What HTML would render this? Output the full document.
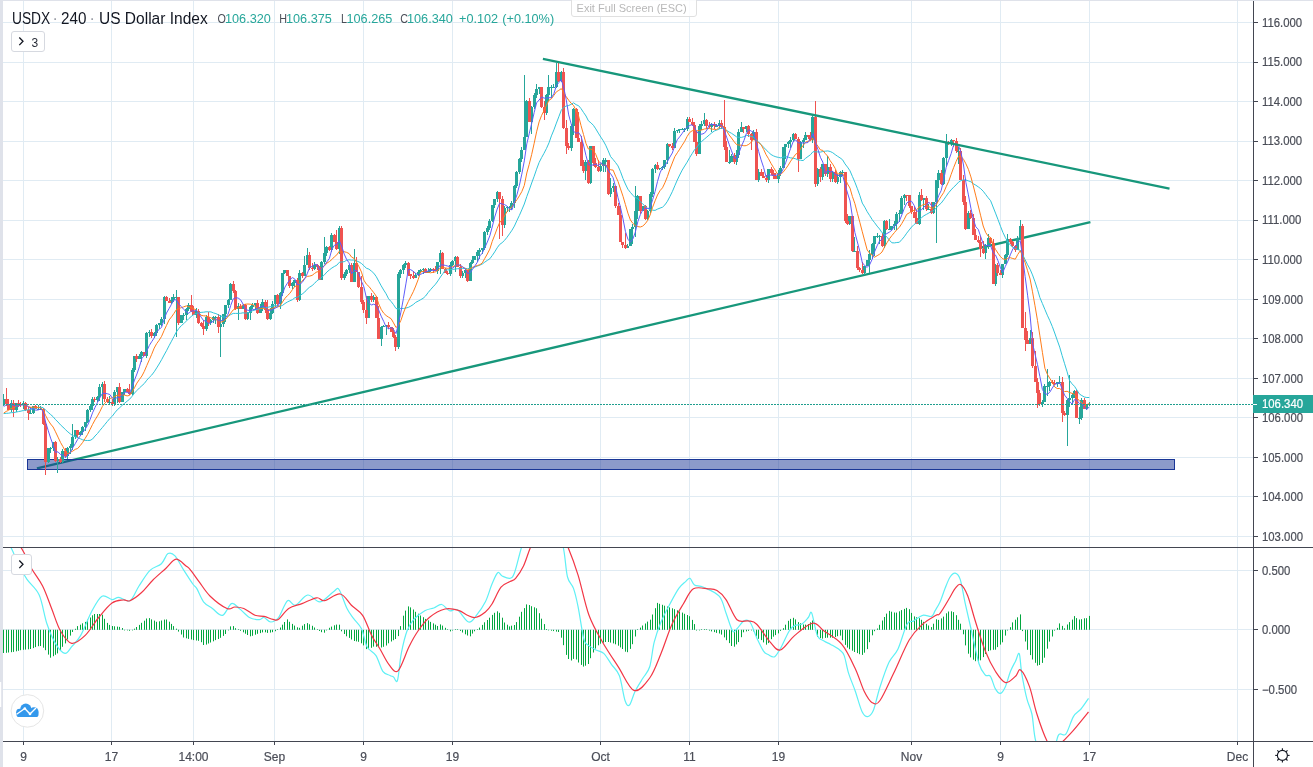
<!DOCTYPE html><html><head><meta charset="utf-8"><style>
html,body{margin:0;padding:0;background:#fff;width:1313px;height:767px;overflow:hidden;position:relative;font-family:"Liberation Sans",sans-serif;}
#tx{position:absolute;left:0;top:0;width:1313px;height:767px;will-change:transform}
#tx div{position:absolute;white-space:nowrap;line-height:14px}
.t{color:#4a4d57;font-size:12px;width:80px;text-align:center;-webkit-text-stroke:0.2px #4a4d57}
.pl{left:1262px;color:#4a4d57;font-size:12px;transform:scaleX(0.945);transform-origin:0 0;-webkit-text-stroke:0.2px currentColor}
.g{color:#26a69a;font-size:12.7px}.k{color:#4a4d57;font-size:12.7px}
</style></head><body>
<svg width="1313" height="767" style="position:absolute;left:0;top:0">
<defs><clipPath id="cm"><rect x="3" y="1" width="1250" height="546"/></clipPath><clipPath id="cd"><rect x="3" y="548" width="1250" height="193"/></clipPath></defs>
<path d="M3 536.5H1253 M3 496.5H1253 M3 457.5H1253 M3 417.5H1253 M3 378.5H1253 M3 338.5H1253 M3 299.5H1253 M3 259.5H1253 M3 220.5H1253 M3 180.5H1253 M3 141.5H1253 M3 101.5H1253 M3 62.5H1253 M3 22.5H1253 M3 570.5H1253 M3 629.5H1253 M3 689.5H1253 M23.5 1V741 M111.5 1V741 M193.5 1V741 M274.5 1V741 M363.5 1V741 M452.5 1V741 M600.5 1V741 M689.5 1V741 M778.5 1V741 M911.5 1V741 M1000.5 1V741 M1089.5 1V741 M1237.5 1V741" stroke="#e0ebf3" stroke-width="1" fill="none"/>
<g clip-path="url(#cm)">
<line x1="36.9" y1="468.3" x2="1090.4" y2="222.1" stroke="#17977b" stroke-width="2.3" stroke-linecap="butt"/>
<rect x="27.5" y="459.5" width="1147" height="10" fill="rgba(26,54,150,0.5)" stroke="#1a3696" stroke-width="1"/>
<path d="M2 399h3v5h-3z M3 394h1v12h-1z M10 403h3v7h-3z M11 400h1v12h-1z M15 403h3v7h-3z M16 403h1v9h-1z M22 403h3v1h-3z M23 401h1v8h-1z M29 413h3v1h-3z M30 407h1v7h-1z M32 406h3v7h-3z M33 406h1v8h-1z M37 409h3v1h-3z M38 405h1v4h-1z M39 409h3v1h-3z M40 406h1v3h-1z M47 448h3v14h-3z M48 448h1v15h-1z M49 448h3v1h-3z M50 447h1v6h-1z M52 442h3v6h-3z M53 442h1v9h-1z M56 459h3v2h-3z M57 457h1v16h-1z M61 451h3v11h-3z M62 449h1v14h-1z M66 448h3v8h-3z M67 447h1v12h-1z M69 446h3v2h-3z M70 444h1v10h-1z M71 437h3v9h-3z M72 424h1v26h-1z M74 430h3v7h-3z M75 430h1v9h-1z M79 432h3v3h-3z M80 431h1v4h-1z M81 427h3v5h-3z M82 426h1v9h-1z M84 422h3v5h-3z M85 422h1v9h-1z M86 410h3v12h-3z M87 409h1v14h-1z M89 406h3v4h-3z M90 405h1v7h-1z M91 399h3v7h-3z M92 397h1v13h-1z M96 397h3v3h-3z M97 396h1v6h-1z M98 387h3v10h-3z M99 384h1v17h-1z M101 384h3v3h-3z M102 382h1v23h-1z M108 402h3v1h-3z M109 396h1v8h-1z M113 392h3v12h-3z M114 390h1v16h-1z M116 387h3v5h-3z M117 387h1v16h-1z M121 392h3v10h-3z M122 392h1v10h-1z M123 389h3v3h-3z M124 389h1v6h-1z M131 370h3v24h-3z M132 368h1v27h-1z M133 356h3v14h-3z M134 356h1v16h-1z M138 356h3v3h-3z M139 354h1v5h-1z M140 352h3v4h-3z M141 351h1v11h-1z M145 333h3v23h-3z M146 332h1v26h-1z M148 332h3v1h-3z M149 330h1v7h-1z M153 333h3v3h-3z M154 332h1v6h-1z M155 325h3v8h-3z M156 324h1v12h-1z M158 323h3v2h-3z M159 323h1v6h-1z M160 319h3v4h-3z M161 317h1v9h-1z M163 297h3v22h-3z M164 296h1v28h-1z M170 300h3v3h-3z M171 297h1v7h-1z M172 297h3v3h-3z M173 294h1v8h-1z M175 297h3v1h-3z M176 290h1v47h-1z M180 315h3v8h-3z M181 315h1v8h-1z M182 315h3v1h-3z M183 313h1v7h-1z M185 309h3v6h-3z M186 308h1v12h-1z M187 305h3v4h-3z M188 303h1v8h-1z M195 311h3v4h-3z M196 308h1v10h-1z M205 317h3v12h-3z M206 315h1v16h-1z M209 320h3v3h-3z M210 319h1v6h-1z M212 317h3v3h-3z M213 316h1v7h-1z M214 317h3v1h-3z M215 316h1v8h-1z M219 324h3v3h-3z M220 315h1v42h-1z M222 314h3v10h-3z M223 314h1v13h-1z M224 305h3v9h-3z M225 305h1v17h-1z M227 300h3v5h-3z M228 299h1v9h-1z M229 284h3v16h-3z M230 283h1v17h-1z M237 306h3v3h-3z M238 303h1v17h-1z M242 305h3v4h-3z M243 304h1v5h-1z M246 313h3v6h-3z M247 312h1v8h-1z M249 307h3v6h-3z M250 306h1v14h-1z M251 305h3v2h-3z M252 303h1v6h-1z M254 303h3v2h-3z M255 303h1v7h-1z M259 308h3v5h-3z M260 304h1v9h-1z M261 302h3v6h-3z M262 299h1v12h-1z M269 313h3v6h-3z M270 308h1v12h-1z M271 304h3v9h-3z M272 301h1v13h-1z M274 295h3v9h-3z M275 295h1v12h-1z M279 293h3v11h-3z M280 292h1v17h-1z M281 273h3v20h-3z M282 273h1v23h-1z M283 270h3v3h-3z M284 270h1v4h-1z M291 283h3v3h-3z M292 282h1v7h-1z M293 280h3v3h-3z M294 280h1v7h-1z M298 273h3v27h-3z M299 270h1v31h-1z M303 265h3v11h-3z M304 256h1v20h-1z M306 255h3v10h-3z M307 248h1v17h-1z M313 265h3v4h-3z M314 262h1v8h-1z M320 262h3v18h-3z M321 261h1v19h-1z M323 253h3v9h-3z M324 237h1v27h-1z M325 247h3v6h-3z M326 246h1v10h-1z M330 235h3v15h-3z M331 233h1v19h-1z M338 228h3v21h-3z M339 226h1v28h-1z M343 274h3v4h-3z M344 272h1v8h-1z M345 270h3v4h-3z M346 269h1v7h-1z M348 265h3v5h-3z M349 264h1v9h-1z M353 263h3v19h-3z M354 249h1v33h-1z M367 296h3v22h-3z M368 296h1v22h-1z M372 297h3v3h-3z M373 295h1v7h-1z M380 327h3v12h-3z M381 326h1v20h-1z M382 326h3v1h-3z M383 325h1v2h-1z M385 325h3v1h-3z M386 325h1v10h-1z M397 274h3v73h-3z M398 272h1v77h-1z M399 270h3v4h-3z M400 269h1v9h-1z M402 265h3v5h-3z M403 264h1v10h-1z M404 263h3v2h-3z M405 261h1v7h-1z M414 275h3v3h-3z M415 273h1v5h-1z M417 272h3v3h-3z M418 270h1v6h-1z M419 270h3v2h-3z M420 269h1v3h-1z M422 269h3v1h-3z M423 268h1v6h-1z M427 271h3v2h-3z M428 268h1v5h-1z M429 269h3v2h-3z M430 268h1v4h-1z M436 262h3v9h-3z M437 262h1v12h-1z M439 253h3v9h-3z M440 250h1v24h-1z M449 265h3v9h-3z M450 262h1v14h-1z M451 261h3v4h-3z M452 260h1v6h-1z M454 257h3v4h-3z M455 256h1v16h-1z M461 273h3v3h-3z M462 271h1v7h-1z M464 270h3v3h-3z M465 269h1v9h-1z M469 263h3v18h-3z M470 262h1v19h-1z M471 260h3v3h-3z M472 256h1v8h-1z M473 256h3v4h-3z M474 256h1v4h-1z M476 252h3v4h-3z M477 250h1v12h-1z M478 250h3v2h-3z M479 248h1v11h-1z M481 248h3v2h-3z M482 248h1v6h-1z M483 232h3v16h-3z M484 231h1v19h-1z M486 228h3v4h-3z M487 226h1v9h-1z M488 221h3v7h-3z M489 219h1v11h-1z M491 205h3v16h-3z M492 205h1v17h-1z M493 199h3v6h-3z M494 199h1v9h-1z M496 192h3v7h-3z M497 191h1v11h-1z M503 208h3v17h-3z M504 206h1v22h-1z M506 207h3v1h-3z M507 206h1v6h-1z M508 207h3v1h-3z M509 206h1v6h-1z M510 203h3v4h-3z M511 201h1v9h-1z M513 186h3v17h-3z M514 185h1v23h-1z M515 172h3v14h-3z M516 171h1v17h-1z M518 159h3v13h-3z M519 158h1v16h-1z M520 150h3v9h-3z M521 147h1v15h-1z M523 137h3v13h-3z M524 75h1v75h-1z M525 101h3v36h-3z M526 100h1v37h-1z M530 107h3v15h-3z M531 106h1v28h-1z M533 95h3v12h-3z M534 93h1v16h-1z M535 89h3v6h-3z M536 84h1v14h-1z M538 87h3v2h-3z M539 87h1v7h-1z M545 95h3v18h-3z M546 94h1v21h-1z M547 87h3v8h-3z M548 75h1v26h-1z M550 87h3v1h-3z M551 85h1v13h-1z M552 87h3v1h-3z M553 84h1v3h-1z M555 72h3v15h-3z M556 63h1v25h-1z M560 72h3v9h-3z M561 71h1v11h-1z M570 126h3v22h-3z M571 124h1v27h-1z M572 109h3v17h-3z M573 108h1v27h-1z M584 162h3v9h-3z M585 160h1v20h-1z M589 146h3v37h-3z M590 146h1v38h-1z M599 166h3v5h-3z M600 164h1v8h-1z M602 160h3v6h-3z M603 158h1v14h-1z M604 160h3v2h-3z M605 158h1v14h-1z M609 188h3v6h-3z M610 178h1v19h-1z M612 186h3v2h-3z M613 183h1v9h-1z M626 246h3v2h-3z M627 244h1v4h-1z M629 229h3v17h-3z M630 229h1v17h-1z M631 227h3v2h-3z M632 224h1v20h-1z M634 211h3v16h-3z M635 186h1v51h-1z M636 196h3v15h-3z M637 195h1v24h-1z M641 206h3v5h-3z M642 206h1v5h-1z M646 211h3v8h-3z M647 210h1v10h-1z M649 194h3v17h-3z M650 192h1v21h-1z M651 169h3v25h-3z M652 168h1v29h-1z M654 165h3v4h-3z M655 164h1v9h-1z M658 168h3v1h-3z M659 168h1v2h-1z M661 167h3v1h-3z M662 166h1v4h-1z M663 160h3v7h-3z M664 160h1v9h-1z M666 144h3v16h-3z M667 143h1v21h-1z M673 131h3v17h-3z M674 128h1v20h-1z M676 130h3v1h-3z M677 130h1v3h-1z M678 129h3v1h-3z M679 129h1v4h-1z M681 129h3v1h-3z M682 128h1v1h-1z M683 129h3v1h-3z M684 128h1v4h-1z M686 119h3v10h-3z M687 117h1v14h-1z M698 126h3v28h-3z M699 124h1v30h-1z M700 124h3v2h-3z M701 121h1v9h-1z M703 120h3v4h-3z M704 113h1v13h-1z M710 124h3v3h-3z M711 123h1v9h-1z M715 126h3v1h-3z M716 124h1v2h-1z M718 123h3v3h-3z M719 120h1v9h-1z M728 162h3v1h-3z M729 150h1v14h-1z M730 156h3v6h-3z M731 154h1v8h-1z M735 155h3v7h-3z M736 150h1v15h-1z M737 132h3v23h-3z M738 129h1v29h-1z M740 127h3v5h-3z M741 122h1v10h-1z M745 126h3v3h-3z M746 126h1v6h-1z M752 132h3v8h-3z M753 130h1v10h-1z M757 172h3v8h-3z M758 169h1v13h-1z M767 169h3v11h-3z M768 169h1v14h-1z M777 173h3v6h-3z M778 170h1v13h-1z M779 168h3v5h-3z M780 166h1v10h-1z M782 147h3v21h-3z M783 147h1v21h-1z M784 144h3v3h-3z M785 144h1v15h-1z M787 142h3v2h-3z M788 141h1v7h-1z M789 140h3v2h-3z M790 137h1v11h-1z M792 134h3v6h-3z M793 133h1v9h-1z M799 142h3v17h-3z M800 141h1v18h-1z M802 140h3v2h-3z M803 138h1v10h-1z M804 135h3v5h-3z M805 132h1v8h-1z M811 117h3v23h-3z M812 116h1v27h-1z M816 169h3v15h-3z M817 168h1v18h-1z M821 164h3v13h-3z M822 164h1v16h-1z M826 167h3v7h-3z M827 156h1v21h-1z M831 172h3v7h-3z M832 171h1v11h-1z M836 177h3v5h-3z M837 174h1v10h-1z M839 172h3v5h-3z M840 171h1v12h-1z M841 172h3v1h-3z M842 170h1v6h-1z M848 216h3v8h-3z M849 216h1v9h-1z M853 251h3v1h-3z M854 237h1v14h-1z M863 266h3v7h-3z M864 266h1v9h-1z M866 260h3v6h-3z M867 260h1v6h-1z M868 254h3v6h-3z M869 250h1v23h-1z M871 244h3v10h-3z M872 243h1v16h-1z M873 236h3v8h-3z M874 236h1v20h-1z M876 236h3v1h-3z M877 233h1v5h-1z M878 236h3v1h-3z M879 235h1v9h-1z M883 221h3v25h-3z M884 220h1v28h-1z M888 229h3v1h-3z M889 219h1v10h-1z M890 226h3v3h-3z M891 226h1v4h-1z M893 224h3v2h-3z M894 221h1v9h-1z M895 214h3v10h-3z M896 212h1v18h-1z M898 213h3v1h-3z M899 210h1v12h-1z M900 198h3v15h-3z M901 196h1v18h-1z M903 195h3v3h-3z M904 194h1v11h-1z M918 195h3v29h-3z M919 192h1v33h-1z M922 198h3v2h-3z M923 198h1v12h-1z M927 209h3v1h-3z M928 204h1v6h-1z M932 202h3v11h-3z M933 202h1v12h-1z M935 180h3v22h-3z M936 180h1v63h-1z M937 173h3v7h-3z M938 170h1v18h-1z M942 158h3v26h-3z M943 157h1v28h-1z M945 142h3v16h-3z M946 134h1v32h-1z M950 140h3v4h-3z M951 139h1v7h-1z M957 151h3v1h-3z M958 147h1v17h-1z M967 213h3v16h-3z M968 211h1v18h-1z M984 245h3v8h-3z M985 244h1v15h-1z M987 238h3v7h-3z M988 234h1v15h-1z M994 265h3v19h-3z M995 264h1v22h-1z M1001 264h3v11h-3z M1002 264h1v14h-1z M1004 255h3v9h-3z M1005 254h1v10h-1z M1006 239h3v16h-3z M1007 234h1v23h-1z M1016 238h3v12h-3z M1017 236h1v14h-1z M1019 226h3v12h-3z M1020 220h1v20h-1z M1029 338h3v6h-3z M1030 330h1v14h-1z M1041 402h3v2h-3z M1042 400h1v7h-1z M1043 386h3v16h-3z M1044 384h1v18h-1z M1046 386h3v1h-3z M1047 369h1v27h-1z M1048 382h3v4h-3z M1049 381h1v10h-1z M1056 382h3v2h-3z M1057 382h1v5h-1z M1058 382h3v1h-3z M1059 376h1v8h-1z M1066 400h3v15h-3z M1067 399h1v47h-1z M1068 398h3v2h-3z M1069 375h1v32h-1z M1071 395h3v3h-3z M1072 394h1v10h-1z M1073 391h3v4h-3z M1074 390h1v8h-1z M1078 418h3v1h-3z M1079 407h1v17h-1z M1080 400h3v18h-3z M1081 398h1v22h-1z M1085 404h3v5h-3z M1086 404h1v6h-1z M1088 404h3v1h-3z M1089 402h1v4h-1z" fill="#26a69a" shape-rendering="crispEdges"/>
<path d="M5 399h3v5h-3z M6 388h1v18h-1z M7 404h3v6h-3z M8 399h1v11h-1z M12 403h3v7h-3z M13 400h1v17h-1z M17 403h3v1h-3z M18 400h1v7h-1z M19 404h3v1h-3z M20 402h1v5h-1z M24 403h3v7h-3z M25 402h1v9h-1z M27 410h3v3h-3z M28 407h1v13h-1z M34 406h3v3h-3z M35 405h1v4h-1z M42 409h3v15h-3z M43 408h1v17h-1z M44 424h3v38h-3z M45 422h1v53h-1z M54 442h3v19h-3z M55 441h1v21h-1z M59 459h3v3h-3z M60 457h1v6h-1z M64 451h3v5h-3z M65 448h1v10h-1z M76 430h3v5h-3z M77 430h1v8h-1z M93 399h3v1h-3z M94 397h1v5h-1z M103 384h3v15h-3z M104 381h1v21h-1z M106 399h3v3h-3z M107 397h1v6h-1z M111 402h3v2h-3z M112 399h1v7h-1z M118 387h3v15h-3z M119 383h1v20h-1z M126 389h3v3h-3z M127 388h1v4h-1z M128 392h3v2h-3z M129 384h1v11h-1z M135 356h3v3h-3z M136 354h1v8h-1z M143 352h3v4h-3z M144 352h1v4h-1z M150 332h3v4h-3z M151 329h1v9h-1z M165 297h3v4h-3z M166 296h1v5h-1z M168 301h3v2h-3z M169 298h1v5h-1z M177 297h3v26h-3z M178 297h1v28h-1z M190 305h3v6h-3z M191 295h1v17h-1z M192 311h3v4h-3z M193 306h1v9h-1z M197 311h3v12h-3z M198 309h1v15h-1z M200 323h3v3h-3z M201 322h1v5h-1z M202 326h3v3h-3z M203 320h1v15h-1z M207 317h3v6h-3z M208 312h1v14h-1z M217 317h3v10h-3z M218 314h1v19h-1z M232 284h3v7h-3z M233 281h1v12h-1z M234 291h3v18h-3z M235 290h1v20h-1z M239 306h3v3h-3z M240 304h1v5h-1z M244 305h3v14h-3z M245 304h1v16h-1z M256 303h3v10h-3z M257 300h1v14h-1z M264 302h3v8h-3z M265 300h1v13h-1z M266 310h3v9h-3z M267 300h1v20h-1z M276 295h3v9h-3z M277 294h1v12h-1z M286 270h3v6h-3z M287 270h1v6h-1z M288 276h3v10h-3z M289 276h1v12h-1z M296 280h3v20h-3z M297 278h1v24h-1z M301 273h3v3h-3z M302 272h1v6h-1z M308 255h3v13h-3z M309 252h1v18h-1z M311 268h3v1h-3z M312 263h1v8h-1z M316 265h3v2h-3z M317 264h1v6h-1z M318 267h3v13h-3z M319 266h1v14h-1z M328 247h3v3h-3z M329 246h1v5h-1z M333 235h3v7h-3z M334 234h1v8h-1z M335 242h3v7h-3z M336 230h1v20h-1z M340 228h3v50h-3z M341 226h1v54h-1z M350 265h3v17h-3z M351 263h1v19h-1z M355 263h3v9h-3z M356 257h1v15h-1z M357 272h3v15h-3z M358 272h1v16h-1z M360 287h3v15h-3z M361 276h1v28h-1z M362 302h3v8h-3z M363 300h1v13h-1z M365 310h3v8h-3z M366 296h1v28h-1z M370 296h3v4h-3z M371 293h1v9h-1z M375 297h3v21h-3z M376 296h1v22h-1z M377 318h3v21h-3z M378 306h1v33h-1z M387 325h3v2h-3z M388 322h1v7h-1z M390 327h3v5h-3z M391 327h1v5h-1z M392 332h3v5h-3z M393 328h1v10h-1z M394 337h3v10h-3z M395 335h1v16h-1z M407 263h3v11h-3z M408 262h1v14h-1z M409 274h3v2h-3z M410 274h1v5h-1z M412 276h3v2h-3z M413 271h1v8h-1z M424 269h3v4h-3z M425 268h1v5h-1z M432 269h3v1h-3z M433 268h1v5h-1z M434 270h3v1h-3z M435 266h1v5h-1z M441 253h3v16h-3z M442 252h1v17h-1z M444 269h3v4h-3z M445 268h1v5h-1z M446 273h3v1h-3z M447 271h1v4h-1z M456 257h3v10h-3z M457 256h1v11h-1z M459 267h3v9h-3z M460 264h1v14h-1z M466 270h3v11h-3z M467 270h1v12h-1z M498 192h3v7h-3z M499 192h1v47h-1z M501 199h3v26h-3z M502 196h1v40h-1z M528 101h3v21h-3z M529 98h1v24h-1z M540 87h3v20h-3z M541 87h1v21h-1z M543 107h3v6h-3z M544 101h1v19h-1z M557 72h3v9h-3z M558 63h1v19h-1z M562 72h3v56h-3z M563 68h1v61h-1z M565 128h3v18h-3z M566 120h1v34h-1z M567 146h3v2h-3z M568 143h1v7h-1z M575 109h3v29h-3z M576 108h1v30h-1z M577 138h3v4h-3z M578 112h1v30h-1z M580 142h3v24h-3z M581 136h1v30h-1z M582 166h3v5h-3z M583 160h1v13h-1z M587 162h3v21h-3z M588 160h1v24h-1z M592 146h3v17h-3z M593 146h1v20h-1z M594 163h3v4h-3z M595 158h1v10h-1z M597 167h3v4h-3z M598 160h1v12h-1z M607 160h3v34h-3z M608 160h1v35h-1z M614 186h3v20h-3z M615 186h1v22h-1z M617 206h3v9h-3z M618 203h1v12h-1z M619 215h3v27h-3z M620 206h1v36h-1z M621 242h3v3h-3z M622 242h1v6h-1z M624 245h3v3h-3z M625 233h1v16h-1z M639 196h3v15h-3z M640 196h1v18h-1z M644 206h3v13h-3z M645 205h1v15h-1z M656 165h3v4h-3z M657 162h1v8h-1z M668 144h3v2h-3z M669 144h1v3h-1z M671 146h3v2h-3z M672 143h1v7h-1z M688 119h3v3h-3z M689 117h1v5h-1z M691 122h3v3h-3z M692 118h1v8h-1z M693 125h3v17h-3z M694 122h1v20h-1z M695 142h3v12h-3z M696 131h1v25h-1z M705 120h3v6h-3z M706 119h1v10h-1z M708 126h3v1h-3z M709 122h1v6h-1z M713 124h3v2h-3z M714 122h1v7h-1z M720 123h3v4h-3z M721 120h1v9h-1z M723 127h3v20h-3z M724 100h1v50h-1z M725 147h3v15h-3z M726 141h1v21h-1z M733 156h3v6h-3z M734 153h1v11h-1z M742 127h3v2h-3z M743 127h1v6h-1z M747 126h3v8h-3z M748 125h1v12h-1z M750 134h3v6h-3z M751 133h1v17h-1z M755 132h3v48h-3z M756 129h1v51h-1z M760 172h3v4h-3z M761 169h1v7h-1z M762 176h3v2h-3z M763 172h1v6h-1z M765 178h3v2h-3z M766 175h1v7h-1z M770 169h3v4h-3z M771 167h1v8h-1z M772 173h3v3h-3z M773 170h1v9h-1z M774 176h3v3h-3z M775 173h1v6h-1z M794 134h3v5h-3z M795 133h1v6h-1z M797 139h3v20h-3z M798 137h1v35h-1z M807 135h3v2h-3z M808 135h1v4h-1z M809 137h3v3h-3z M810 132h1v9h-1z M814 117h3v67h-3z M815 101h1v86h-1z M819 169h3v8h-3z M820 167h1v15h-1z M824 164h3v10h-3z M825 164h1v12h-1z M829 167h3v12h-3z M830 164h1v18h-1z M834 172h3v10h-3z M835 170h1v13h-1z M844 172h3v49h-3z M845 172h1v51h-1z M846 221h3v3h-3z M847 214h1v11h-1z M851 216h3v35h-3z M852 216h1v36h-1z M856 251h3v17h-3z M857 246h1v24h-1z M858 268h3v2h-3z M859 267h1v5h-1z M861 270h3v3h-3z M862 262h1v12h-1z M881 236h3v10h-3z M882 233h1v14h-1z M885 221h3v8h-3z M886 220h1v10h-1z M905 195h3v1h-3z M906 195h1v6h-1z M908 195h3v11h-3z M909 195h1v13h-1z M910 206h3v6h-3z M911 206h1v8h-1z M913 212h3v6h-3z M914 206h1v12h-1z M915 218h3v6h-3z M916 210h1v14h-1z M920 195h3v5h-3z M921 189h1v12h-1z M925 198h3v11h-3z M926 196h1v15h-1z M930 209h3v4h-3z M931 202h1v12h-1z M940 173h3v11h-3z M941 170h1v15h-1z M947 142h3v2h-3z M948 141h1v4h-1z M952 140h3v1h-3z M953 140h1v7h-1z M955 141h3v10h-3z M956 138h1v15h-1z M959 151h3v29h-3z M960 148h1v32h-1z M962 180h3v22h-3z M963 175h1v30h-1z M964 202h3v27h-3z M965 196h1v34h-1z M969 213h3v5h-3z M970 210h1v9h-1z M972 218h3v17h-3z M973 214h1v21h-1z M974 235h3v5h-3z M975 229h1v11h-1z M977 240h3v2h-3z M978 236h1v7h-1z M979 242h3v7h-3z M980 236h1v21h-1z M982 249h3v4h-3z M983 241h1v13h-1z M989 238h3v5h-3z M990 237h1v7h-1z M992 243h3v41h-3z M993 239h1v45h-1z M996 265h3v8h-3z M997 263h1v13h-1z M999 273h3v2h-3z M1000 270h1v5h-1z M1009 239h3v3h-3z M1010 238h1v6h-1z M1011 242h3v4h-3z M1012 241h1v6h-1z M1014 246h3v4h-3z M1015 245h1v7h-1z M1021 226h3v102h-3z M1022 224h1v104h-1z M1024 328h3v12h-3z M1025 312h1v39h-1z M1026 340h3v4h-3z M1027 331h1v13h-1z M1031 338h3v28h-3z M1032 332h1v36h-1z M1034 366h3v16h-3z M1035 351h1v31h-1z M1036 382h3v11h-3z M1037 378h1v30h-1z M1038 393h3v11h-3z M1039 390h1v16h-1z M1051 382h3v1h-3z M1052 380h1v4h-1z M1053 383h3v1h-3z M1054 380h1v5h-1z M1061 382h3v31h-3z M1062 377h1v45h-1z M1063 413h3v2h-3z M1064 411h1v5h-1z M1075 391h3v27h-3z M1076 390h1v28h-1z M1083 400h3v9h-3z M1084 398h1v11h-1z" fill="#ef5350" shape-rendering="crispEdges"/>
<polyline points="3.7,413.6 6.2,413.3 8.6,413.2 11.1,412.7 13.6,412.6 16.0,412.1 18.5,411.6 21.0,411.1 23.4,410.5 25.9,410.1 28.4,409.8 30.9,409.4 33.3,408.6 35.8,408.0 38.3,407.5 40.7,407.2 43.2,407.7 45.7,410.2 48.1,412.3 50.6,414.5 53.1,416.7 55.5,419.6 58.0,422.0 60.5,424.9 62.9,427.0 65.4,429.6 67.9,431.9 70.3,433.9 72.8,435.7 75.3,436.7 77.7,437.7 80.2,438.7 82.7,439.8 85.1,440.4 87.6,440.5 90.1,440.4 92.5,439.1 95.0,436.0 97.5,433.5 99.9,430.4 102.4,427.5 104.9,424.4 107.3,421.5 109.8,418.5 112.3,416.2 114.7,412.9 117.2,409.9 119.7,407.7 122.1,405.4 124.6,403.3 127.1,401.2 129.5,399.3 132.0,396.4 134.5,393.1 136.9,390.5 139.4,388.0 141.9,385.7 144.3,383.5 146.8,380.2 149.3,377.4 151.7,375.1 154.2,371.8 156.7,367.9 159.1,364.0 161.6,359.7 164.1,355.0 166.5,350.7 169.0,345.8 171.5,341.2 173.9,336.6 176.4,331.9 178.9,328.4 181.4,325.6 183.8,323.6 186.3,321.1 188.8,318.6 191.2,316.5 193.7,314.5 196.2,313.4 198.6,313.0 201.1,312.4 203.6,312.2 206.0,311.8 208.5,311.8 211.0,311.9 213.4,312.9 215.9,313.6 218.4,314.8 220.8,316.0 223.3,316.9 225.8,317.3 228.2,316.1 230.7,314.6 233.2,313.4 235.6,313.4 238.1,313.4 240.6,313.3 243.0,312.8 245.5,313.2 248.0,312.7 250.4,311.8 252.9,310.6 255.4,309.9 257.8,309.4 260.3,308.8 262.8,308.0 265.2,307.7 267.7,307.3 270.2,306.7 272.6,306.2 275.1,305.7 277.6,305.9 280.0,306.3 282.5,305.4 285.0,303.5 287.4,302.0 289.9,300.8 292.4,299.7 294.8,297.8 297.3,297.2 299.8,295.5 302.2,294.0 304.7,292.1 307.2,289.2 309.6,287.2 312.1,285.6 314.6,283.3 317.0,280.7 319.5,279.1 322.0,277.0 324.4,274.9 326.9,272.0 329.4,269.9 331.9,268.0 334.3,266.5 336.8,265.2 339.3,262.3 341.7,262.0 344.2,261.7 346.7,260.2 349.1,259.8 351.6,260.1 354.1,260.0 356.5,260.9 359.0,261.9 361.5,263.5 363.9,265.7 366.4,268.3 368.9,269.1 371.3,271.0 373.8,273.2 376.3,276.7 378.7,281.2 381.2,285.8 383.7,290.0 386.1,293.8 388.6,298.8 391.1,301.5 393.5,304.6 396.0,308.5 398.5,309.0 400.9,308.4 403.4,308.5 405.9,308.0 408.3,307.4 410.8,306.1 413.3,304.5 415.7,302.4 418.2,301.1 420.7,299.7 423.1,298.3 425.6,296.0 428.1,292.6 430.5,289.7 433.0,286.9 435.5,284.2 437.9,280.9 440.4,277.0 442.9,273.6 445.3,269.9 447.8,269.9 450.3,269.6 452.7,269.4 455.2,269.1 457.7,268.7 460.1,268.7 462.6,268.5 465.1,268.3 467.5,268.7 470.0,268.3 472.5,267.9 474.9,267.0 477.4,266.1 479.9,265.1 482.3,264.0 484.8,262.1 487.3,260.4 489.8,258.8 492.2,255.6 494.7,251.9 497.2,247.8 499.6,244.5 502.1,242.7 504.6,240.3 507.0,237.3 509.5,233.8 512.0,230.2 514.4,226.1 516.9,220.6 519.4,215.4 521.8,209.9 524.3,204.0 526.8,196.5 529.2,190.1 531.7,183.0 534.2,176.2 536.6,169.2 539.1,162.5 541.6,157.6 544.0,153.3 546.5,148.4 549.0,142.8 551.4,135.9 553.9,129.9 556.4,123.1 558.8,116.8 561.3,110.2 563.8,107.3 566.2,106.0 568.7,105.5 571.2,104.3 573.6,102.8 576.1,104.7 578.6,105.7 581.0,108.6 583.5,112.4 586.0,116.0 588.4,120.8 590.9,122.8 593.4,125.3 595.8,128.9 598.3,133.1 600.8,137.1 603.2,140.7 605.7,145.2 608.2,150.8 610.6,156.6 613.1,159.5 615.6,162.6 618.0,165.9 620.5,171.7 623.0,178.5 625.4,184.0 627.9,189.2 630.4,192.4 632.8,195.2 635.3,197.7 637.8,198.3 640.3,201.6 642.7,203.8 645.2,206.4 647.7,208.3 650.1,209.7 652.6,210.2 655.1,210.4 657.5,209.1 660.0,208.1 662.5,207.2 664.9,204.9 667.4,201.3 669.9,196.5 672.3,191.7 674.8,185.8 677.3,180.0 679.7,175.0 682.2,170.1 684.7,166.0 687.1,162.2 689.6,157.7 692.1,153.7 694.5,149.8 697.0,147.0 699.5,143.6 701.9,141.3 704.4,139.1 706.9,137.0 709.3,134.9 711.8,132.8 714.3,131.0 716.7,130.1 719.2,129.0 721.7,128.0 724.1,128.8 726.6,130.4 729.1,132.0 731.5,133.3 734.0,135.0 736.5,136.8 738.9,137.3 741.4,137.4 743.9,136.7 746.3,135.3 748.8,135.7 751.3,136.5 753.7,137.1 756.2,139.8 758.7,142.0 761.1,144.6 763.6,147.2 766.1,149.9 768.5,152.2 771.0,154.5 773.5,155.9 775.9,156.8 778.4,157.4 780.9,157.9 783.3,157.2 785.8,156.7 788.3,157.2 790.7,157.9 793.2,158.2 795.7,158.8 798.2,160.1 800.6,160.2 803.1,160.6 805.6,158.3 808.0,156.5 810.5,154.7 813.0,151.7 815.4,151.9 817.9,151.9 820.4,152.1 822.8,151.5 825.3,151.2 827.8,150.9 830.2,151.5 832.7,152.7 835.2,154.6 837.6,156.3 840.1,157.9 842.6,159.8 845.0,163.9 847.5,167.1 850.0,170.8 852.4,176.4 854.9,182.2 857.4,188.7 859.8,195.3 862.3,203.1 864.8,207.2 867.2,211.7 869.7,215.6 872.2,219.6 874.6,222.7 877.1,226.1 879.6,229.0 882.0,232.7 884.5,234.6 887.0,237.2 889.4,240.1 891.9,242.8 894.4,242.9 896.8,242.5 899.3,242.3 901.8,239.6 904.2,236.8 906.7,233.2 909.2,230.0 911.6,227.0 914.1,224.5 916.6,222.8 919.0,219.8 921.5,217.7 924.0,215.7 926.4,214.4 928.9,213.0 931.4,211.4 933.8,210.4 936.3,208.0 938.8,205.2 941.2,203.1 943.7,199.8 946.2,196.2 948.7,192.7 951.1,189.9 953.6,187.2 956.1,184.9 958.5,182.2 961.0,180.6 963.5,179.8 965.9,180.0 968.4,180.9 970.9,181.8 973.3,183.7 975.8,185.2 978.3,186.9 980.7,188.7 983.2,191.2 985.7,194.5 988.1,197.7 990.6,200.7 993.1,207.0 995.5,213.1 998.0,219.6 1000.5,226.3 1002.9,232.4 1005.4,237.6 1007.9,242.0 1010.3,245.1 1012.8,247.3 1015.3,248.4 1017.7,249.6 1020.2,250.1 1022.7,254.7 1025.1,259.7 1027.6,264.8 1030.1,269.3 1032.5,274.9 1035.0,281.8 1037.5,289.5 1039.9,297.6 1042.4,303.5 1044.9,309.5 1047.3,315.2 1049.8,320.6 1052.3,326.5 1054.7,333.0 1057.2,340.1 1059.7,347.1 1062.1,355.5 1064.6,363.7 1067.1,371.8 1069.5,380.4 1072.0,383.8 1074.5,386.3 1076.9,390.0 1079.4,394.0 1081.9,395.6 1084.3,397.0 1086.8,397.5 1089.3,397.5" fill="none" stroke="#30c4da" stroke-width="1"/>
<polyline points="3.7,413.1 6.2,411.4 8.6,410.3 11.1,408.5 13.6,407.7 16.0,406.4 18.5,405.4 21.0,404.8 23.4,404.5 25.9,405.1 28.4,406.5 30.9,407.4 33.3,407.0 35.8,407.5 38.3,407.4 40.7,407.9 43.2,410.0 45.7,415.7 48.1,420.2 50.6,424.0 53.1,427.0 55.5,431.8 58.0,437.1 60.5,442.4 62.9,446.6 65.4,451.3 67.9,453.8 70.3,452.2 72.8,451.1 75.3,449.3 77.7,448.5 80.2,445.6 82.7,442.4 85.1,438.5 87.6,434.4 90.1,429.4 92.5,424.5 95.0,419.9 97.5,415.9 99.9,411.5 102.4,406.4 104.9,403.1 107.3,400.6 109.8,398.5 112.3,397.9 114.7,396.5 117.2,395.3 119.7,395.5 122.1,394.9 124.6,395.1 127.1,395.9 129.5,395.4 132.0,392.2 134.5,387.7 136.9,383.1 139.4,379.5 141.9,376.0 144.3,371.4 146.8,365.5 149.3,359.8 151.7,354.3 154.2,348.1 156.7,343.6 159.1,340.3 161.6,336.3 164.1,330.5 166.5,325.4 169.0,320.1 171.5,316.9 173.9,313.5 176.4,309.6 178.9,308.6 181.4,307.6 183.8,306.8 186.3,305.9 188.8,306.6 191.2,307.6 193.7,308.8 196.2,309.9 198.6,312.4 201.1,315.3 203.6,315.8 206.0,316.0 208.5,316.8 211.0,317.9 213.4,319.1 215.9,319.7 218.4,320.9 220.8,322.2 223.3,321.3 225.8,319.3 228.2,316.4 230.7,313.1 233.2,309.9 235.6,308.8 238.1,307.7 240.6,306.9 243.0,304.8 245.5,304.2 248.0,304.0 250.4,304.2 252.9,304.7 255.4,306.6 257.8,308.8 260.3,308.7 262.8,308.3 265.2,308.4 267.7,309.8 270.2,309.2 272.6,308.3 275.1,307.1 277.6,307.0 280.0,306.0 282.5,302.0 285.0,298.3 287.4,295.7 289.9,293.3 292.4,289.7 294.8,286.4 297.3,286.0 299.8,283.8 302.2,281.0 304.7,278.2 307.2,276.4 309.6,276.1 312.1,275.4 314.6,273.4 317.0,271.8 319.5,271.8 322.0,267.9 324.4,265.9 326.9,263.1 329.4,261.6 331.9,259.5 334.3,256.9 336.8,254.9 339.3,251.2 341.7,252.3 344.2,251.7 346.7,252.4 349.1,253.6 351.6,257.1 354.1,258.4 356.5,262.2 359.0,266.8 361.5,272.1 363.9,280.2 366.4,284.2 368.9,286.4 371.3,289.5 373.8,292.7 376.3,296.3 378.7,303.9 381.2,309.4 383.7,313.2 386.1,315.5 388.6,317.2 391.1,318.7 393.5,322.8 396.0,327.5 398.5,325.2 400.9,320.4 403.4,313.0 405.9,306.6 408.3,301.5 410.8,296.6 413.3,291.7 415.7,286.0 418.2,279.5 420.7,271.9 423.1,271.3 425.6,271.6 428.1,272.2 430.5,272.8 433.0,272.3 435.5,271.8 437.9,270.2 440.4,268.0 442.9,267.7 445.3,267.9 447.8,268.4 450.3,267.7 452.7,266.7 455.2,265.5 457.7,265.1 460.1,265.7 462.6,266.8 465.1,268.5 467.5,269.8 470.0,268.8 472.5,267.3 474.9,266.4 477.4,265.5 479.9,264.7 482.3,262.9 484.8,258.4 487.3,254.0 489.8,249.1 492.2,241.5 494.7,235.1 497.2,228.3 499.6,222.7 502.1,219.9 504.6,215.8 507.0,211.6 509.5,209.1 512.0,206.5 514.4,203.1 516.9,199.8 519.4,195.8 521.8,191.6 524.3,185.4 526.8,173.0 529.2,164.4 531.7,154.4 534.2,143.2 536.6,131.8 539.1,121.9 541.6,115.4 544.0,110.7 546.5,105.2 549.0,100.2 551.4,98.8 553.9,95.3 556.4,91.8 558.8,90.4 561.3,88.6 563.8,92.7 566.2,96.7 568.7,100.2 571.2,103.3 573.6,105.5 576.1,110.6 578.6,116.1 581.0,125.5 583.5,134.5 586.0,143.5 588.4,149.0 590.9,149.0 593.4,150.4 595.8,154.5 598.3,160.8 600.8,163.5 603.2,165.4 605.7,164.9 608.2,167.2 610.6,169.8 613.1,170.1 615.6,176.2 618.0,181.4 620.5,188.9 623.0,196.3 625.4,204.5 627.9,213.1 630.4,220.0 632.8,223.3 635.3,225.6 637.8,226.6 640.3,227.0 642.7,226.1 645.2,223.8 647.7,220.4 650.1,215.0 652.6,207.3 655.1,200.8 657.5,195.0 660.0,190.7 662.5,187.8 664.9,182.8 667.4,176.6 669.9,169.2 672.3,163.0 674.8,156.7 677.3,152.8 679.7,149.2 682.2,145.2 684.7,141.3 687.1,136.5 689.6,132.6 692.1,130.8 694.5,130.3 697.0,130.9 699.5,130.4 701.9,129.9 704.4,129.0 706.9,128.7 709.3,128.5 711.8,129.0 714.3,129.4 716.7,129.5 719.2,127.6 721.7,125.0 724.1,127.1 726.6,130.8 729.1,135.0 731.5,138.0 734.0,141.5 736.5,144.5 738.9,145.1 741.4,145.2 743.9,145.8 746.3,145.6 748.8,144.3 751.3,142.2 753.7,139.2 756.2,141.6 758.7,142.6 761.1,144.7 763.6,149.3 766.1,154.7 768.5,158.7 771.0,163.4 773.5,167.5 775.9,171.4 778.4,175.6 780.9,174.3 783.3,171.9 785.8,168.7 788.3,165.1 790.7,161.1 793.2,157.7 795.7,154.2 798.2,152.6 800.6,148.9 803.1,145.5 805.6,142.2 808.0,141.2 810.5,140.7 813.0,138.3 815.4,142.7 817.9,146.1 820.4,149.9 822.8,150.4 825.3,153.6 827.8,156.3 830.2,160.7 832.7,164.2 835.2,168.4 837.6,174.4 840.1,173.2 842.6,173.5 845.0,177.9 847.5,183.9 850.0,188.1 852.4,196.5 854.9,203.7 857.4,213.3 859.8,222.2 862.3,231.8 864.8,241.2 867.2,250.0 869.7,253.3 872.2,255.2 874.6,257.2 877.1,255.7 879.6,254.2 882.0,252.0 884.5,247.1 887.0,242.7 889.4,238.9 891.9,235.6 894.4,232.6 896.8,229.7 899.3,227.4 901.8,223.5 904.2,219.4 906.7,214.4 909.2,212.9 911.6,211.3 914.1,210.2 916.6,209.9 919.0,207.1 921.5,205.7 924.0,204.1 926.4,205.2 928.9,206.6 931.4,208.4 933.8,207.9 936.3,204.7 938.8,200.2 941.2,196.3 943.7,192.5 946.2,186.7 948.7,181.4 951.1,174.5 953.6,167.7 956.1,161.5 958.5,156.4 961.0,156.4 963.5,159.3 965.9,163.8 968.4,169.3 970.9,176.9 973.3,185.9 975.8,195.9 978.3,206.0 980.7,215.8 983.2,226.0 985.7,232.5 988.1,236.1 990.6,237.5 993.1,244.6 995.5,249.4 998.0,253.2 1000.5,256.7 1002.9,258.9 1005.4,259.5 1007.9,258.1 1010.3,257.7 1012.8,258.5 1015.3,259.2 1017.7,254.6 1020.2,250.8 1022.7,256.2 1025.1,262.7 1027.6,270.7 1030.1,279.0 1032.5,291.8 1035.0,305.8 1037.5,320.5 1039.9,335.9 1042.4,352.3 1044.9,368.3 1047.3,374.2 1049.8,378.4 1052.3,382.3 1054.7,386.9 1057.2,388.5 1059.7,388.5 1062.1,390.5 1064.6,391.6 1067.1,391.3 1069.5,392.5 1072.0,393.3 1074.5,394.2 1076.9,397.7 1079.4,401.0 1081.9,402.8 1084.3,405.5 1086.8,404.6 1089.3,403.5" fill="none" stroke="#ff7d1a" stroke-width="1"/>
<polyline points="3.7,406.6 6.2,404.8 8.6,404.7 11.1,404.1 13.6,405.3 16.0,406.2 18.5,406.0 21.0,404.9 23.4,404.9 25.9,404.9 28.4,406.9 30.9,408.7 33.3,409.0 35.8,410.2 38.3,409.9 40.7,409.0 43.2,411.2 45.7,422.3 48.1,430.2 50.6,438.1 53.1,444.9 55.5,452.3 58.0,451.8 60.5,454.5 62.9,455.1 65.4,457.8 67.9,455.2 70.3,452.6 72.8,447.7 75.3,443.6 77.7,439.3 80.2,436.0 82.7,432.3 85.1,429.3 87.6,425.3 90.1,419.5 92.5,412.9 95.0,407.5 97.5,402.4 99.9,397.8 102.4,393.4 104.9,393.4 107.3,393.7 109.8,394.5 112.3,398.0 114.7,399.6 117.2,397.3 119.7,397.3 122.1,395.2 124.6,392.2 127.1,392.2 129.5,393.6 132.0,387.2 134.5,380.1 136.9,374.0 139.4,366.8 141.9,358.4 144.3,355.7 146.8,351.0 149.3,345.5 151.7,341.7 154.2,337.9 156.7,331.6 159.1,329.6 161.6,327.1 164.1,319.3 166.5,313.0 169.0,308.7 171.5,304.2 173.9,299.9 176.4,299.9 178.9,304.2 181.4,306.6 183.8,309.5 186.3,311.8 188.8,313.4 191.2,311.0 193.7,311.0 196.2,310.2 198.6,313.0 201.1,317.1 203.6,320.6 206.0,321.1 208.5,323.4 211.0,322.8 213.4,321.1 215.9,318.7 218.4,320.7 220.8,320.9 223.3,319.8 225.8,317.4 228.2,314.0 230.7,305.5 233.2,298.9 235.6,297.8 238.1,298.0 240.6,299.8 243.0,304.0 245.5,309.5 248.0,310.3 250.4,310.5 252.9,309.7 255.4,309.3 257.8,308.2 260.3,307.1 262.8,306.1 265.2,307.2 267.7,310.3 270.2,310.3 272.6,309.6 275.1,308.2 277.6,306.9 280.0,301.8 282.5,293.8 285.0,287.0 287.4,283.2 289.9,279.6 292.4,277.6 294.8,279.0 297.3,285.0 299.8,284.4 302.2,282.4 304.7,278.8 307.2,273.8 309.6,267.3 312.1,266.5 314.6,264.3 317.0,264.7 319.5,269.7 322.0,268.6 324.4,265.4 326.9,261.8 329.4,258.4 331.9,249.3 334.3,245.3 336.8,244.5 339.3,240.7 341.7,246.2 344.2,254.1 346.7,259.6 349.1,262.8 351.6,273.6 354.1,270.7 356.5,270.4 359.0,273.9 361.5,281.4 363.9,286.9 366.4,297.8 368.9,302.5 371.3,305.1 373.8,304.1 376.3,305.7 378.7,310.0 381.2,316.2 383.7,321.4 386.1,327.0 388.6,328.8 391.1,327.4 393.5,329.4 396.0,333.6 398.5,323.5 400.9,312.1 403.4,298.6 405.9,283.9 408.3,269.4 410.8,269.7 413.3,271.4 415.7,273.4 418.2,275.1 420.7,274.4 423.1,272.9 425.6,271.8 428.1,271.0 430.5,270.4 433.0,270.3 435.5,270.7 437.9,268.6 440.4,265.0 442.9,264.9 445.3,265.4 447.8,266.1 450.3,266.7 452.7,268.3 455.2,266.0 457.7,264.8 460.1,265.2 462.6,266.9 465.1,268.7 467.5,273.5 470.0,272.8 472.5,269.4 474.9,265.9 477.4,262.2 479.9,255.9 482.3,253.1 484.8,247.6 487.3,242.1 489.8,235.9 492.2,227.0 494.7,217.1 497.2,209.1 499.6,203.2 502.1,204.0 504.6,204.6 507.0,206.1 509.5,209.0 512.0,209.8 514.4,202.1 516.9,194.9 519.4,185.4 521.8,174.1 524.3,160.9 526.8,143.8 529.2,133.8 531.7,123.4 534.2,112.4 536.6,102.8 539.1,100.0 541.6,96.9 544.0,98.1 546.5,98.1 549.0,97.7 551.4,97.7 553.9,93.7 556.4,85.5 558.8,82.7 561.3,79.6 563.8,87.8 566.2,99.6 568.7,114.9 571.2,123.9 573.6,131.3 576.1,133.3 578.6,132.5 581.0,136.0 583.5,145.0 586.0,155.6 588.4,164.6 590.9,165.4 593.4,164.8 595.8,164.0 598.3,165.9 600.8,162.5 603.2,165.4 605.7,164.9 608.2,170.3 610.6,173.7 613.1,177.7 615.6,186.9 618.0,197.8 620.5,207.4 623.0,218.9 625.4,231.3 627.9,239.2 630.4,242.1 632.8,239.1 635.3,232.2 637.8,221.8 640.3,214.7 642.7,210.1 645.2,208.5 647.7,208.5 650.1,208.1 652.6,199.8 655.1,191.5 657.5,181.5 660.0,172.9 662.5,167.5 664.9,165.8 667.4,161.7 669.9,157.0 672.3,153.0 674.8,145.8 677.3,139.7 679.7,136.8 682.2,133.4 684.7,129.6 687.1,127.2 689.6,125.5 692.1,124.7 694.5,127.3 697.0,132.3 699.5,133.7 701.9,134.2 704.4,133.2 706.9,130.1 709.3,124.7 711.8,124.3 714.3,124.6 716.7,125.8 719.2,125.2 721.7,125.3 724.1,129.9 726.6,137.1 729.1,144.2 731.5,150.8 734.0,157.7 736.5,159.1 738.9,153.1 741.4,146.2 743.9,140.7 746.3,133.6 748.8,129.6 751.3,131.2 753.7,132.2 756.2,142.4 758.7,151.6 761.1,159.9 763.6,167.4 766.1,177.1 768.5,174.9 771.0,175.2 773.5,175.2 775.9,175.5 778.4,174.0 780.9,173.7 783.3,168.6 785.8,162.3 788.3,154.8 790.7,148.2 793.2,141.6 795.7,139.9 798.2,142.9 800.6,142.9 803.1,142.9 805.6,142.9 808.0,142.5 810.5,138.6 813.0,133.6 815.4,142.5 817.9,149.3 820.4,157.3 822.8,162.1 825.3,173.5 827.8,170.1 830.2,172.1 832.7,171.2 835.2,174.7 837.6,175.2 840.1,176.2 842.6,174.8 845.0,184.6 847.5,193.0 850.0,200.9 852.4,216.7 854.9,232.6 857.4,242.0 859.8,251.3 862.3,262.7 864.8,265.7 867.2,267.4 869.7,264.6 872.2,259.2 874.6,251.8 877.1,245.8 879.6,241.0 882.0,239.5 884.5,235.0 887.0,233.5 889.4,232.1 891.9,230.2 894.4,225.8 896.8,224.3 899.3,221.2 901.8,215.0 904.2,208.7 906.7,203.0 909.2,201.5 911.6,201.3 914.1,205.3 916.6,211.1 919.0,211.1 921.5,209.8 924.0,206.9 926.4,205.1 928.9,202.1 931.4,205.6 933.8,206.0 936.3,202.5 938.8,195.3 941.2,190.5 943.7,179.4 946.2,167.4 948.7,160.3 951.1,153.7 953.6,145.0 956.1,143.7 958.5,145.5 961.0,152.6 963.5,165.0 965.9,182.5 968.4,194.9 970.9,208.2 973.3,219.2 975.8,226.8 978.3,229.5 980.7,236.6 983.2,243.8 985.7,245.8 988.1,245.4 990.6,245.6 993.1,252.7 995.5,255.0 998.0,260.7 1000.5,268.0 1002.9,272.2 1005.4,266.3 1007.9,261.1 1010.3,254.8 1012.8,249.0 1015.3,246.2 1017.7,242.9 1020.2,240.4 1022.7,257.6 1025.1,276.4 1027.6,295.2 1030.1,315.1 1032.5,343.2 1035.0,354.0 1037.5,364.6 1039.9,376.6 1042.4,389.5 1044.9,393.5 1047.3,394.4 1049.8,392.2 1052.3,388.0 1054.7,384.4 1057.2,383.5 1059.7,382.6 1062.1,388.8 1064.6,395.2 1067.1,398.3 1069.5,401.4 1072.0,404.0 1074.5,399.6 1076.9,400.1 1079.4,403.7 1081.9,404.1 1084.3,406.9 1086.8,409.5 1089.3,406.8" fill="none" stroke="#5f5cfa" stroke-width="1"/>
<line x1="542.9" y1="58.9" x2="1169.5" y2="188.7" stroke="#17977b" stroke-width="2.3" stroke-linecap="butt"/>
<path d="M3 404.5H1253" stroke="#1f9e8e" stroke-width="1" stroke-dasharray="2 1"/>
</g>
<g clip-path="url(#cd)">
<path d="M3.5 629.8V653.0 M6.5 629.8V652.8 M8.5 629.8V652.5 M11.5 629.8V652.2 M13.5 629.8V651.9 M16.5 629.8V651.3 M18.5 629.8V650.8 M20.5 629.8V650.2 M23.5 629.8V649.8 M25.5 629.8V649.6 M28.5 629.8V649.3 M30.5 629.8V649.0 M33.5 629.8V648.1 M35.5 629.8V647.1 M38.5 629.8V646.2 M40.5 629.8V646.0 M43.5 629.8V647.7 M45.5 629.8V650.2 M48.5 629.8V654.6 M50.5 629.8V657.7 M53.5 629.8V656.2 M55.5 629.8V654.8 M57.5 629.8V653.4 M60.5 629.8V650.1 M62.5 629.8V646.8 M65.5 629.8V643.4 M67.5 629.8V639.5 M70.5 629.8V635.6 M72.5 629.8V632.0 M75.5 629.8V628.8 M77.5 629.8V626.1 M80.5 629.8V624.7 M82.5 629.8V623.3 M85.5 629.8V621.9 M87.5 629.8V619.7 M90.5 629.8V617.5 M92.5 629.8V615.3 M94.5 629.8V614.0 M97.5 629.8V614.0 M99.5 629.8V614.0 M102.5 629.8V614.7 M104.5 629.8V618.8 M107.5 629.8V622.9 M109.5 629.8V624.9 M112.5 629.8V626.0 M114.5 629.8V626.3 M117.5 629.8V626.6 M119.5 629.8V626.9 M122.5 629.8V628.0 M124.5 629.8V630.4 M127.5 629.8V630.4 M129.5 629.8V630.8 M132.5 629.8V630.4 M134.5 629.8V628.7 M136.5 629.8V627.0 M139.5 629.8V624.9 M141.5 629.8V622.8 M144.5 629.8V620.7 M146.5 629.8V618.5 M149.5 629.8V618.1 M151.5 629.8V619.4 M154.5 629.8V620.6 M156.5 629.8V621.8 M159.5 629.8V621.3 M161.5 629.8V620.5 M164.5 629.8V619.6 M166.5 629.8V619.5 M169.5 629.8V621.7 M171.5 629.8V623.9 M173.5 629.8V626.1 M176.5 629.8V628.7 M178.5 629.8V631.6 M181.5 629.8V634.5 M183.5 629.8V637.5 M186.5 629.8V638.3 M188.5 629.8V638.9 M191.5 629.8V639.5 M193.5 629.8V640.1 M196.5 629.8V640.5 M198.5 629.8V640.8 M201.5 629.8V642.2 M203.5 629.8V645.0 M206.5 629.8V644.6 M208.5 629.8V643.5 M210.5 629.8V642.5 M213.5 629.8V641.3 M215.5 629.8V640.1 M218.5 629.8V639.0 M220.5 629.8V637.8 M223.5 629.8V635.9 M225.5 629.8V634.0 M228.5 629.8V630.4 M230.5 629.8V626.4 M233.5 629.8V626.1 M235.5 629.8V628.2 M238.5 629.8V629.2 M240.5 629.8V630.8 M243.5 629.8V632.3 M245.5 629.8V633.7 M247.5 629.8V635.0 M250.5 629.8V636.3 M252.5 629.8V635.8 M255.5 629.8V634.7 M257.5 629.8V633.8 M260.5 629.8V633.1 M262.5 629.8V632.4 M265.5 629.8V632.3 M267.5 629.8V632.9 M270.5 629.8V632.6 M272.5 629.8V632.2 M275.5 629.8V631.2 M277.5 629.8V629.2 M280.5 629.8V627.5 M282.5 629.8V624.7 M284.5 629.8V622.0 M287.5 629.8V619.4 M289.5 629.8V621.8 M292.5 629.8V623.9 M294.5 629.8V625.6 M297.5 629.8V627.3 M299.5 629.8V627.8 M302.5 629.8V625.7 M304.5 629.8V624.1 M307.5 629.8V623.1 M309.5 629.8V624.3 M312.5 629.8V625.8 M314.5 629.8V627.5 M317.5 629.8V629.2 M319.5 629.8V631.0 M321.5 629.8V632.2 M324.5 629.8V632.7 M326.5 629.8V630.4 M329.5 629.8V627.8 M331.5 629.8V626.6 M334.5 629.8V625.3 M336.5 629.8V624.6 M339.5 629.8V624.7 M341.5 629.8V631.3 M344.5 629.8V634.0 M346.5 629.8V636.3 M349.5 629.8V637.9 M351.5 629.8V639.5 M354.5 629.8V641.0 M356.5 629.8V641.4 M358.5 629.8V641.8 M361.5 629.8V643.3 M363.5 629.8V645.4 M366.5 629.8V649.1 M368.5 629.8V649.1 M371.5 629.8V647.8 M373.5 629.8V646.6 M376.5 629.8V646.8 M378.5 629.8V647.2 M381.5 629.8V647.5 M383.5 629.8V646.8 M386.5 629.8V645.5 M388.5 629.8V643.3 M391.5 629.8V641.5 M393.5 629.8V640.2 M395.5 629.8V639.0 M398.5 629.8V636.1 M400.5 629.8V626.1 M403.5 629.8V615.7 M405.5 629.8V610.6 M408.5 629.8V606.4 M410.5 629.8V607.4 M413.5 629.8V609.5 M415.5 629.8V611.8 M418.5 629.8V613.7 M420.5 629.8V615.5 M423.5 629.8V617.2 M425.5 629.8V618.9 M428.5 629.8V620.4 M430.5 629.8V621.9 M433.5 629.8V623.4 M435.5 629.8V624.7 M437.5 629.8V626.0 M440.5 629.8V624.4 M442.5 629.8V625.6 M445.5 629.8V627.8 M447.5 629.8V629.2 M450.5 629.8V631.4 M452.5 629.8V630.5 M455.5 629.8V629.2 M457.5 629.8V629.2 M460.5 629.8V630.9 M462.5 629.8V632.5 M465.5 629.8V634.3 M467.5 629.8V635.5 M470.5 629.8V636.3 M472.5 629.8V633.6 M474.5 629.8V631.3 M477.5 629.8V629.2 M479.5 629.8V627.6 M482.5 629.8V624.9 M484.5 629.8V622.3 M487.5 629.8V620.0 M489.5 629.8V617.7 M492.5 629.8V614.9 M494.5 629.8V612.8 M497.5 629.8V611.3 M499.5 629.8V612.8 M502.5 629.8V617.7 M504.5 629.8V622.5 M507.5 629.8V624.7 M509.5 629.8V626.4 M511.5 629.8V625.7 M514.5 629.8V625.0 M516.5 629.8V622.1 M519.5 629.8V616.7 M521.5 629.8V611.8 M524.5 629.8V608.1 M526.5 629.8V604.4 M529.5 629.8V605.0 M531.5 629.8V606.2 M534.5 629.8V607.3 M536.5 629.8V608.3 M539.5 629.8V613.2 M541.5 629.8V618.7 M544.5 629.8V624.1 M546.5 629.8V629.0 M548.5 629.8V630.4 M551.5 629.8V630.7 M553.5 629.8V631.1 M556.5 629.8V631.6 M558.5 629.8V632.0 M561.5 629.8V637.7 M563.5 629.8V645.2 M566.5 629.8V654.9 M568.5 629.8V659.0 M571.5 629.8V660.5 M573.5 629.8V658.9 M576.5 629.8V659.5 M578.5 629.8V662.5 M581.5 629.8V664.9 M583.5 629.8V666.6 M585.5 629.8V665.7 M588.5 629.8V664.0 M590.5 629.8V658.2 M593.5 629.8V652.5 M595.5 629.8V648.6 M598.5 629.8V645.3 M600.5 629.8V643.7 M603.5 629.8V642.7 M605.5 629.8V642.0 M608.5 629.8V642.0 M610.5 629.8V642.6 M613.5 629.8V643.4 M615.5 629.8V644.3 M618.5 629.8V645.7 M620.5 629.8V647.4 M622.5 629.8V649.0 M625.5 629.8V651.7 M627.5 629.8V652.2 M630.5 629.8V648.9 M632.5 629.8V644.2 M635.5 629.8V636.5 M637.5 629.8V629.2 M640.5 629.8V627.6 M642.5 629.8V625.5 M645.5 629.8V623.5 M647.5 629.8V621.6 M650.5 629.8V619.7 M652.5 629.8V614.5 M655.5 629.8V608.2 M657.5 629.8V602.9 M659.5 629.8V603.8 M662.5 629.8V604.8 M664.5 629.8V605.7 M667.5 629.8V606.5 M669.5 629.8V607.4 M672.5 629.8V608.3 M674.5 629.8V609.2 M677.5 629.8V610.3 M679.5 629.8V611.5 M682.5 629.8V612.6 M684.5 629.8V613.8 M687.5 629.8V615.0 M689.5 629.8V616.2 M692.5 629.8V619.9 M694.5 629.8V624.1 M696.5 629.8V630.5 M699.5 629.8V630.4 M701.5 629.8V629.2 M704.5 629.8V629.1 M706.5 629.8V629.2 M709.5 629.8V630.6 M711.5 629.8V631.4 M714.5 629.8V632.1 M716.5 629.8V632.9 M719.5 629.8V633.5 M721.5 629.8V634.6 M724.5 629.8V637.4 M726.5 629.8V640.2 M729.5 629.8V643.1 M731.5 629.8V646.0 M734.5 629.8V646.7 M736.5 629.8V644.4 M738.5 629.8V642.1 M741.5 629.8V637.2 M743.5 629.8V632.3 M746.5 629.8V631.4 M748.5 629.8V630.8 M751.5 629.8V630.4 M753.5 629.8V631.3 M756.5 629.8V636.4 M758.5 629.8V638.8 M761.5 629.8V640.1 M763.5 629.8V642.4 M766.5 629.8V644.7 M768.5 629.8V643.1 M771.5 629.8V639.2 M773.5 629.8V636.7 M775.5 629.8V635.1 M778.5 629.8V633.4 M780.5 629.8V630.9 M783.5 629.8V628.2 M785.5 629.8V624.7 M788.5 629.8V620.8 M790.5 629.8V618.9 M793.5 629.8V617.8 M795.5 629.8V619.4 M798.5 629.8V622.1 M800.5 629.8V623.3 M803.5 629.8V624.5 M805.5 629.8V624.6 M808.5 629.8V624.0 M810.5 629.8V622.3 M812.5 629.8V620.5 M815.5 629.8V630.4 M817.5 629.8V636.9 M820.5 629.8V638.0 M822.5 629.8V638.6 M825.5 629.8V637.9 M827.5 629.8V637.7 M830.5 629.8V637.7 M832.5 629.8V637.7 M835.5 629.8V637.0 M837.5 629.8V636.2 M840.5 629.8V635.6 M842.5 629.8V640.2 M845.5 629.8V644.9 M847.5 629.8V647.6 M849.5 629.8V649.2 M852.5 629.8V650.7 M854.5 629.8V652.0 M857.5 629.8V653.1 M859.5 629.8V654.2 M862.5 629.8V654.9 M864.5 629.8V652.7 M867.5 629.8V649.1 M869.5 629.8V642.2 M872.5 629.8V635.3 M874.5 629.8V631.2 M877.5 629.8V628.5 M879.5 629.8V624.8 M882.5 629.8V620.5 M884.5 629.8V617.0 M886.5 629.8V613.6 M889.5 629.8V610.9 M891.5 629.8V611.7 M894.5 629.8V612.5 M896.5 629.8V612.6 M899.5 629.8V611.3 M901.5 629.8V610.1 M904.5 629.8V608.9 M906.5 629.8V607.9 M909.5 629.8V609.2 M911.5 629.8V612.9 M914.5 629.8V616.4 M916.5 629.8V617.3 M919.5 629.8V618.2 M921.5 629.8V619.8 M923.5 629.8V621.8 M926.5 629.8V623.8 M928.5 629.8V625.5 M931.5 629.8V627.1 M933.5 629.8V623.7 M936.5 629.8V619.3 M938.5 629.8V619.9 M941.5 629.8V618.4 M943.5 629.8V616.6 M946.5 629.8V613.3 M948.5 629.8V611.5 M951.5 629.8V611.3 M953.5 629.8V612.1 M956.5 629.8V615.2 M958.5 629.8V619.8 M960.5 629.8V623.7 M963.5 629.8V634.3 M965.5 629.8V645.4 M968.5 629.8V653.7 M970.5 629.8V657.4 M973.5 629.8V659.7 M975.5 629.8V661.2 M978.5 629.8V661.2 M980.5 629.8V660.3 M983.5 629.8V657.1 M985.5 629.8V654.0 M988.5 629.8V651.1 M990.5 629.8V650.3 M993.5 629.8V649.8 M995.5 629.8V649.7 M997.5 629.8V647.1 M1000.5 629.8V644.6 M1002.5 629.8V642.3 M1005.5 629.8V635.6 M1007.5 629.8V630.5 M1010.5 629.8V627.2 M1012.5 629.8V622.4 M1015.5 629.8V619.7 M1017.5 629.8V617.3 M1020.5 629.8V614.4 M1022.5 629.8V631.1 M1025.5 629.8V641.5 M1027.5 629.8V649.8 M1030.5 629.8V655.1 M1032.5 629.8V659.5 M1035.5 629.8V662.8 M1037.5 629.8V665.6 M1039.5 629.8V665.0 M1042.5 629.8V662.9 M1044.5 629.8V657.7 M1047.5 629.8V648.7 M1049.5 629.8V641.6 M1052.5 629.8V636.5 M1054.5 629.8V630.6 M1057.5 629.8V627.9 M1059.5 629.8V623.4 M1062.5 629.8V625.9 M1064.5 629.8V628.3 M1067.5 629.8V624.5 M1069.5 629.8V622.1 M1072.5 629.8V619.6 M1074.5 629.8V616.1 M1076.5 629.8V618.1 M1079.5 629.8V619.5 M1081.5 629.8V619.2 M1084.5 629.8V618.3 M1086.5 629.8V618.2 M1089.5 629.8V615.9" stroke="#03a63f" stroke-width="1" fill="none"/>
<path d="M0.0 530.0 C1.9 533.0 8.2 542.4 11.2 548.0 C14.2 553.6 15.4 558.5 18.0 563.7 C20.6 568.9 23.5 574.2 27.0 579.4 C30.5 584.6 35.9 587.6 39.2 595.0 C42.5 602.4 44.2 615.8 47.0 624.0 C49.8 632.2 53.0 639.5 56.0 644.4 C59.0 649.3 62.4 653.0 65.0 653.4 C67.6 653.8 69.1 649.7 71.7 646.7 C74.3 643.7 77.3 641.4 80.7 635.4 C84.1 629.4 88.5 617.3 92.0 610.8 C95.5 604.3 98.7 598.1 102.0 596.2 C105.3 594.3 109.2 599.4 112.0 599.6 C114.8 599.8 115.8 597.1 118.8 597.3 C121.8 597.5 126.6 602.6 130.0 600.7 C133.4 598.8 135.7 591.0 139.0 586.0 C142.3 581.0 146.3 574.1 150.0 570.4 C153.7 566.7 158.4 566.5 161.4 563.7 C164.4 560.9 165.7 554.9 168.0 553.6 C170.3 552.3 172.3 553.0 175.0 555.8 C177.7 558.6 180.9 565.7 183.9 570.4 C186.9 575.1 190.7 581.0 192.8 584.0 C194.9 587.0 194.9 585.4 196.7 588.4 C198.5 591.4 200.9 598.4 203.5 601.8 C206.1 605.1 209.2 606.2 212.4 608.5 C215.6 610.8 219.3 616.1 222.5 615.3 C225.7 614.5 228.7 604.7 231.5 603.6 C234.3 602.5 236.3 606.2 239.3 608.5 C242.3 610.8 246.0 615.6 249.4 617.5 C252.8 619.4 257.1 619.7 259.5 619.7 C261.9 619.7 262.1 617.1 264.0 617.5 C265.9 617.9 268.3 622.0 270.7 622.0 C273.1 622.0 275.8 621.0 278.6 617.5 C281.4 614.0 284.7 602.8 287.5 600.7 C290.3 598.7 292.0 606.2 295.4 605.2 C298.8 604.2 303.6 595.6 307.7 595.0 C311.8 594.4 315.7 602.3 320.0 601.8 C324.3 601.2 330.3 593.8 333.5 591.7 C336.7 589.7 336.8 586.7 339.0 589.5 C341.2 592.3 344.6 603.6 347.0 608.5 C349.4 613.4 351.3 615.2 353.7 618.6 C356.1 622.0 359.3 624.0 361.5 628.7 C363.7 633.4 364.6 642.2 367.0 646.7 C369.4 651.2 373.4 651.5 376.0 655.6 C378.6 659.7 380.5 668.0 382.8 671.3 C385.1 674.6 388.2 674.4 390.0 675.4 C391.8 676.4 392.2 676.2 393.5 677.0 C394.8 677.8 396.2 684.2 397.5 680.3 C398.8 676.4 399.7 661.6 401.3 653.4 C402.9 645.2 404.9 636.6 407.0 631.0 C409.1 625.4 410.6 623.1 413.6 619.7 C416.6 616.3 421.4 612.8 424.8 610.8 C428.2 608.8 431.0 609.0 433.8 608.0 C436.6 607.0 439.1 604.0 441.7 604.5 C444.3 605.0 446.9 609.9 449.5 610.8 C452.1 611.7 454.2 607.8 457.4 609.7 C460.6 611.6 465.4 621.1 468.6 622.0 C471.8 622.9 473.6 618.7 476.4 615.3 C479.2 611.9 482.8 607.0 485.4 601.8 C488.0 596.6 489.9 588.9 492.0 584.0 C494.1 579.1 496.0 574.0 497.7 572.7 C499.4 571.4 500.1 575.1 502.2 576.0 C504.2 576.9 507.9 578.8 510.0 578.3 C512.0 577.8 512.6 577.8 514.5 572.7 C516.4 567.7 518.7 556.8 521.3 548.0 C523.9 539.2 526.0 528.0 530.0 520.0 C534.0 512.0 540.8 500.8 545.0 500.0 C549.2 499.2 551.9 507.0 555.0 515.0 C558.1 523.0 561.3 537.7 563.4 548.0 C565.5 558.3 565.8 570.3 567.5 577.0 C569.2 583.7 571.8 583.5 573.5 588.4 C575.2 593.3 576.3 598.1 578.0 606.3 C579.7 614.5 582.0 631.4 583.5 637.7 C585.0 644.1 584.9 642.4 587.0 644.4 C589.1 646.4 593.1 648.5 595.9 650.0 C598.7 651.5 601.1 651.0 603.7 653.4 C606.3 655.8 609.0 660.9 611.6 664.6 C614.2 668.3 617.2 669.8 619.4 675.8 C621.6 681.8 623.3 695.6 625.0 700.5 C626.7 705.4 627.8 706.5 629.5 705.0 C631.2 703.5 632.8 696.0 635.0 691.5 C637.2 687.0 640.5 682.1 643.0 678.0 C645.5 673.9 647.8 672.8 649.7 666.8 C651.6 660.8 652.3 649.7 654.2 642.2 C656.1 634.7 658.4 628.4 661.0 622.0 C663.6 615.6 666.9 609.6 669.9 604.0 C672.9 598.4 676.2 592.1 678.8 588.4 C681.4 584.7 683.7 583.3 685.6 581.6 C687.5 579.9 688.5 577.7 690.0 578.3 C691.5 578.9 692.2 583.5 694.5 585.0 C696.8 586.5 699.4 585.3 703.5 587.2 C707.6 589.1 715.5 591.9 719.2 596.2 C723.0 600.5 723.8 607.2 726.0 613.0 C728.2 618.8 730.8 628.4 732.6 631.0 C734.4 633.6 735.1 630.4 737.0 628.7 C738.9 627.0 741.7 622.0 743.9 620.9 C746.1 619.8 747.9 619.2 750.0 622.0 C752.1 624.8 754.5 632.9 756.7 637.7 C759.0 642.6 761.6 648.3 763.5 651.1 C765.4 653.9 766.1 653.6 768.0 654.5 C769.9 655.4 772.5 658.0 774.7 656.7 C776.9 655.4 779.0 651.0 781.4 646.7 C783.8 642.4 787.0 634.5 789.2 631.0 C791.4 627.5 792.7 626.5 794.8 625.4 C796.9 624.3 799.4 625.5 801.6 624.2 C803.9 622.9 806.6 619.4 808.3 617.5 C810.0 615.6 810.2 610.0 811.7 613.0 C813.2 616.0 815.2 630.7 817.3 635.4 C819.3 640.1 821.8 639.5 824.0 641.0 C826.2 642.5 828.1 642.9 830.7 644.4 C833.3 645.9 837.5 648.1 839.7 650.0 C842.0 651.9 842.7 651.7 844.2 655.6 C845.7 659.5 846.8 667.6 848.7 673.6 C850.6 679.6 853.2 685.1 855.4 691.5 C857.6 697.9 860.0 707.5 862.1 711.7 C864.2 715.9 865.8 716.8 867.7 716.6 C869.6 716.4 871.2 715.5 873.3 710.6 C875.3 705.7 877.4 695.0 880.0 687.0 C882.6 679.0 886.0 668.6 889.0 662.3 C892.0 655.9 895.0 655.2 898.0 648.9 C901.0 642.5 904.4 628.9 907.0 624.2 C909.6 619.5 911.1 622.4 913.7 620.9 C916.3 619.4 919.6 616.0 922.6 615.3 C925.6 614.5 929.5 617.1 931.6 616.4 C933.7 615.7 933.6 613.3 935.0 610.9 C936.4 608.5 938.3 605.8 940.0 602.0 C941.7 598.2 943.4 592.5 945.1 588.3 C946.8 584.1 948.4 579.5 950.1 577.0 C951.8 574.5 953.5 572.8 955.2 573.2 C956.9 573.6 958.5 574.4 960.2 579.4 C961.9 584.4 963.3 594.7 965.2 603.3 C967.1 611.9 969.2 620.9 971.5 631.0 C973.8 641.1 976.7 656.4 979.0 663.7 C981.3 671.0 983.4 672.9 985.3 675.0 C987.2 677.1 988.7 674.0 990.4 676.3 C992.1 678.6 993.7 686.0 995.4 688.9 C997.1 691.8 998.7 693.8 1000.4 693.4 C1002.1 693.0 1003.8 690.1 1005.5 686.4 C1007.2 682.7 1008.8 675.5 1010.5 671.3 C1012.2 667.1 1014.0 664.1 1015.5 661.2 C1017.0 658.3 1018.2 651.6 1019.3 653.7 C1020.3 655.8 1020.5 666.3 1021.8 673.8 C1023.1 681.3 1025.2 692.2 1026.9 698.9 C1028.6 705.6 1030.4 707.0 1031.9 714.0 C1033.4 721.0 1033.5 732.5 1035.7 741.0 C1037.9 749.5 1042.3 761.8 1045.0 765.0 C1047.7 768.2 1049.8 764.9 1052.0 760.0 C1054.2 755.1 1056.0 739.7 1058.3 735.4 C1060.6 731.1 1063.3 737.3 1065.8 734.2 C1068.3 731.1 1070.9 720.8 1073.4 716.6 C1075.9 712.4 1078.5 712.0 1081.0 709.0 C1083.5 706.0 1087.2 700.2 1088.5 698.4" fill="none" stroke="#5ef0f5" stroke-width="1.2"/>
<path d="M0.0 520.0 C3.6 524.7 16.1 540.0 21.3 548.0 C26.5 556.0 27.8 561.9 31.4 568.2 C34.9 574.5 39.2 579.3 42.6 586.0 C46.0 592.7 48.6 601.0 51.6 608.5 C54.6 616.0 57.1 625.2 60.5 631.0 C63.9 636.8 67.6 642.6 71.7 643.3 C75.8 644.0 80.7 639.7 85.2 635.4 C89.7 631.1 94.2 622.9 98.7 617.5 C103.2 612.1 107.9 605.9 112.0 603.0 C116.1 600.1 120.3 600.4 123.3 600.0 C126.3 599.6 127.0 601.9 130.0 600.7 C133.0 599.5 137.6 596.2 141.3 592.8 C145.1 589.4 148.4 584.6 152.5 580.5 C156.6 576.4 162.1 571.8 166.0 568.2 C169.9 564.7 172.7 559.6 176.0 559.2 C179.3 558.8 183.7 564.3 186.0 566.0 C188.3 567.7 187.8 566.7 190.0 569.3 C192.2 571.9 195.6 577.1 199.0 581.6 C202.4 586.1 205.5 591.7 210.2 596.2 C214.9 600.7 222.9 606.7 227.0 608.5 C231.1 610.3 232.0 607.0 234.8 607.0 C237.6 607.0 240.4 607.1 243.8 608.5 C247.2 609.9 251.6 614.0 255.0 615.3 C258.4 616.6 261.0 615.7 264.0 616.4 C267.0 617.1 270.6 618.8 273.0 619.3 C275.4 619.8 276.0 621.1 278.6 619.3 C281.2 617.5 284.8 611.1 288.7 608.5 C292.6 605.9 297.3 605.4 302.0 603.6 C306.7 601.8 312.9 598.3 316.7 597.8 C320.4 597.3 320.6 601.3 324.5 600.7 C328.4 600.1 335.7 593.2 340.2 594.0 C344.7 594.8 347.7 601.7 351.4 605.2 C355.1 608.8 359.2 610.3 362.6 615.3 C366.0 620.3 368.7 629.8 371.6 635.4 C374.5 641.0 377.1 644.1 380.0 649.0 C382.9 653.9 386.0 661.0 389.0 664.6 C392.0 668.2 394.7 673.9 398.0 670.9 C401.3 667.9 405.7 653.4 409.0 646.7 C412.3 640.1 414.6 635.9 418.0 631.0 C421.4 626.1 424.8 621.2 429.3 617.5 C433.8 613.8 440.1 610.2 445.0 609.0 C449.9 607.8 454.8 609.2 458.5 610.3 C462.2 611.3 464.6 614.1 467.4 615.3 C470.2 616.5 472.3 618.0 475.3 617.5 C478.3 617.0 482.6 614.2 485.4 612.0 C488.2 609.8 489.4 608.1 492.0 604.0 C494.6 599.9 498.0 590.9 501.0 587.2 C504.0 583.5 507.6 583.1 510.0 581.6 C512.4 580.1 513.4 580.9 515.6 578.3 C517.9 575.7 521.1 571.0 523.5 566.0 C525.9 561.0 527.5 554.8 530.2 548.0 C533.0 541.2 535.9 529.7 540.0 525.0 C544.1 520.3 550.3 516.2 555.0 520.0 C559.7 523.8 564.5 538.9 568.3 548.0 C572.1 557.1 574.5 563.7 578.0 574.9 C581.5 586.1 584.9 604.1 589.0 615.3 C593.1 626.5 597.7 633.6 602.6 642.2 C607.5 650.8 613.1 658.8 618.3 666.8 C623.5 674.8 628.8 688.5 634.0 690.4 C639.2 692.3 645.2 684.2 649.7 678.0 C654.2 671.8 657.3 662.4 661.0 653.4 C664.7 644.4 668.3 632.4 672.0 624.2 C675.7 616.0 679.7 609.9 683.3 604.0 C686.9 598.1 689.3 591.3 693.4 588.8 C697.5 586.3 704.1 588.5 708.0 588.8 C711.9 589.1 714.0 588.8 717.0 590.6 C720.0 592.4 722.7 594.8 726.0 599.6 C729.3 604.5 733.3 616.2 737.0 619.7 C740.7 623.2 745.0 620.1 748.3 620.9 C751.6 621.6 753.1 620.7 756.7 624.2 C760.4 627.8 766.3 637.9 770.2 642.2 C774.1 646.5 776.2 651.1 780.3 650.0 C784.4 648.9 789.4 639.9 794.8 635.4 C800.2 630.9 807.9 623.8 812.8 623.1 C817.7 622.4 819.1 627.5 824.0 631.0 C828.9 634.5 836.7 638.1 841.9 644.4 C847.1 650.7 851.7 661.1 855.4 669.0 C859.1 676.9 861.5 685.9 864.3 691.5 C867.1 697.1 869.6 701.2 872.2 702.7 C874.8 704.2 876.5 705.4 880.0 700.5 C883.5 695.6 888.6 683.7 893.5 673.6 C898.4 663.5 904.4 648.2 909.2 640.0 C914.1 631.8 918.1 628.3 922.6 624.2 C927.1 620.1 933.1 617.1 936.0 615.3 C938.9 613.5 937.6 616.4 940.0 613.4 C942.4 610.4 947.6 601.2 950.1 597.0 C952.6 592.8 953.4 590.4 955.2 588.3 C957.0 586.2 958.6 583.2 960.7 584.5 C962.8 585.8 965.3 589.7 967.7 595.8 C970.1 601.9 972.4 611.8 975.3 621.0 C978.2 630.2 981.9 642.7 985.3 651.1 C988.6 659.5 992.0 666.0 995.4 671.3 C998.8 676.5 1002.1 681.8 1005.5 682.6 C1008.9 683.4 1013.0 678.4 1015.5 676.3 C1018.0 674.2 1018.3 668.3 1020.6 670.0 C1022.9 671.7 1026.7 679.1 1029.4 686.4 C1032.1 693.7 1034.0 704.9 1036.9 714.0 C1039.8 723.1 1044.0 735.0 1047.0 741.0 C1050.0 747.0 1052.3 750.0 1055.0 750.0 C1057.7 750.0 1060.2 744.3 1063.3 741.0 C1066.4 737.7 1069.2 735.2 1073.4 730.4 C1077.6 725.6 1086.0 715.1 1088.5 712.0" fill="none" stroke="#f23645" stroke-width="1.2"/>
</g>
<path d="M1253.5 1V767 M0 547.5H1313 M0 741.5H1313" stroke="#434651" stroke-width="1" fill="none"/>
<path d="M1253 536.5H1258 M1253 496.5H1258 M1253 457.5H1258 M1253 417.5H1258 M1253 378.5H1258 M1253 338.5H1258 M1253 299.5H1258 M1253 259.5H1258 M1253 220.5H1258 M1253 180.5H1258 M1253 141.5H1258 M1253 101.5H1258 M1253 62.5H1258 M1253 22.5H1258 M1253 570.5H1258 M1253 629.5H1258 M1253 689.5H1258 M23.5 741V745 M111.5 741V745 M193.5 741V745 M274.5 741V745 M363.5 741V745 M452.5 741V745 M600.5 741V745 M689.5 741V745 M778.5 741V745 M911.5 741V745 M1000.5 741V745 M1089.5 741V745 M1237.5 741V745" stroke="#434651" stroke-width="1" fill="none"/>
<rect x="0" y="0" width="3" height="767" fill="#dfe2ea"/><rect x="0" y="0" width="1313" height="1" fill="#dfe2ea"/><rect x="0" y="682" width="1.2" height="25" fill="#fff"/>
<rect x="1253" y="395" width="60" height="18" fill="#26a69a"/><path d="M1253 404.5H1257" stroke="#fff" stroke-width="1"/>
<g transform="translate(1282.4,755.4)" stroke="#131722" stroke-width="1.1" fill="none"><circle r="5"/><line x1="0" y1="-5" x2="0" y2="-7.2" transform="rotate(0)"/><line x1="0" y1="-5" x2="0" y2="-7.2" transform="rotate(45)"/><line x1="0" y1="-5" x2="0" y2="-7.2" transform="rotate(90)"/><line x1="0" y1="-5" x2="0" y2="-7.2" transform="rotate(135)"/><line x1="0" y1="-5" x2="0" y2="-7.2" transform="rotate(180)"/><line x1="0" y1="-5" x2="0" y2="-7.2" transform="rotate(225)"/><line x1="0" y1="-5" x2="0" y2="-7.2" transform="rotate(270)"/><line x1="0" y1="-5" x2="0" y2="-7.2" transform="rotate(315)"/></g>
<rect x="11.5" y="554.5" width="20" height="20" rx="2.5" fill="#fff" stroke="#d6d9e0"/>
<path d="M19.3 560.5L23 564.3L19.3 568.1" stroke="#131722" stroke-width="1.3" fill="none"/>
<rect x="11.5" y="31.5" width="33" height="20" rx="2.5" fill="#fff" stroke="#d6d9e0"/>
<path d="M19.3 37.5L23 41.3L19.3 45.1" stroke="#131722" stroke-width="1.3" fill="none"/>
<circle cx="27.4" cy="710.9" r="16.3" fill="#fff" stroke="#e6e6e6" stroke-width="1"/>
<g fill="#3398ec"><circle cx="19.6" cy="712.2" r="3.4"/><circle cx="25.8" cy="709.2" r="5.6"/><circle cx="34" cy="711.8" r="4.5"/><rect x="16.5" y="710.5" width="22" height="6.5" rx="2.6"/></g>
<path d="M16.6 714.3 L24.8 708.5 L30 713.9 L36 708" stroke="#fff" stroke-width="1.4" fill="none" stroke-linejoin="round"/><circle cx="24.8" cy="708.5" r="1.3" fill="#fff"/><circle cx="30" cy="713.9" r="1.3" fill="#fff"/>
</svg>
<div id="tx">
<div class="pl" style="top:529.7px">103.000</div>
<div class="pl" style="top:490.2px">104.000</div>
<div class="pl" style="top:450.6px">105.000</div>
<div class="pl" style="top:411.1px">106.000</div>
<div class="pl" style="top:371.6px">107.000</div>
<div class="pl" style="top:332.0px">108.000</div>
<div class="pl" style="top:292.5px">109.000</div>
<div class="pl" style="top:252.9px">110.000</div>
<div class="pl" style="top:213.4px">111.000</div>
<div class="pl" style="top:173.9px">112.000</div>
<div class="pl" style="top:134.3px">113.000</div>
<div class="pl" style="top:94.8px">114.000</div>
<div class="pl" style="top:55.2px">115.000</div>
<div class="pl" style="top:15.7px">116.000</div>
<div class="pl" style="top:563.7px;left:1262px">0.500</div>
<div class="pl" style="top:623.2px;left:1262px">0.000</div>
<div class="pl" style="top:682.7px;left:1262px">−0.500</div>
<div class="pl" style="top:397.2px;color:#fff">106.340</div>
<div class="t" style="top:749.5px;left:-16.5px">9</div>
<div class="t" style="top:749.5px;left:71.5px">17</div>
<div class="t" style="top:749.5px;left:153.5px">14:00</div>
<div class="t" style="top:749.5px;left:234.5px">Sep</div>
<div class="t" style="top:749.5px;left:323.5px">9</div>
<div class="t" style="top:749.5px;left:412.5px">19</div>
<div class="t" style="top:749.5px;left:560.5px">Oct</div>
<div class="t" style="top:749.5px;left:649.5px">11</div>
<div class="t" style="top:749.5px;left:738.5px">19</div>
<div class="t" style="top:749.5px;left:871.5px">Nov</div>
<div class="t" style="top:749.5px;left:960.5px">9</div>
<div class="t" style="top:749.5px;left:1049.5px">17</div>
<div class="t" style="top:749.5px;left:1197.5px">Dec</div>
<div style="left:11.8px;top:11.5px;font-size:16px;color:#131722;transform:scaleX(0.86);transform-origin:0 0">USDX</div>
<div style="left:52.4px;top:11.5px;font-size:16px;color:#9598a1;transform:scaleX(1);transform-origin:0 0">·</div>
<div style="left:61.3px;top:11.5px;font-size:16px;color:#131722;transform:scaleX(0.95);transform-origin:0 0">240</div>
<div style="left:89.5px;top:11.5px;font-size:16px;color:#9598a1;transform:scaleX(1);transform-origin:0 0">·</div>
<div style="left:99px;top:11.5px;font-size:16px;color:#131722;transform:scaleX(0.97);transform-origin:0 0">US Dollar Index</div>
<div class="k" style="left:225.5px;top:11.5px;transform:translateX(-100%) scaleX(0.85);transform-origin:100% 0">O</div>
<div class="g" style="left:225px;top:11.5px">106.320</div>
<div class="k" style="left:286.5px;top:11.5px;transform:translateX(-100%) scaleX(0.85);transform-origin:100% 0">H</div>
<div class="g" style="left:286px;top:11.5px">106.375</div>
<div class="k" style="left:347px;top:11.5px;transform:translateX(-100%) scaleX(0.85);transform-origin:100% 0">L</div>
<div class="g" style="left:346.5px;top:11.5px">106.265</div>
<div class="k" style="left:407.5px;top:11.5px;transform:translateX(-100%) scaleX(0.85);transform-origin:100% 0">C</div>
<div class="g" style="left:407px;top:11.5px">106.340</div>
<div class="g" style="left:459px;top:11.5px">+0.102</div>
<div class="g" style="left:502.3px;top:11.5px">(+0.10%)</div>
<div style="left:31.5px;top:35.5px;font-size:12px;color:#2a2e39">3</div>
<div style="left:571px;top:-4px;width:124px;height:19px;border:1px solid #e0e0e0;border-radius:3px;background:rgba(255,255,255,0.85);"></div>
<div style="left:576.6px;top:1px;font-size:11px;color:#b8b8b8">Exit Full Screen (ESC)</div>
</div>
</body></html>
